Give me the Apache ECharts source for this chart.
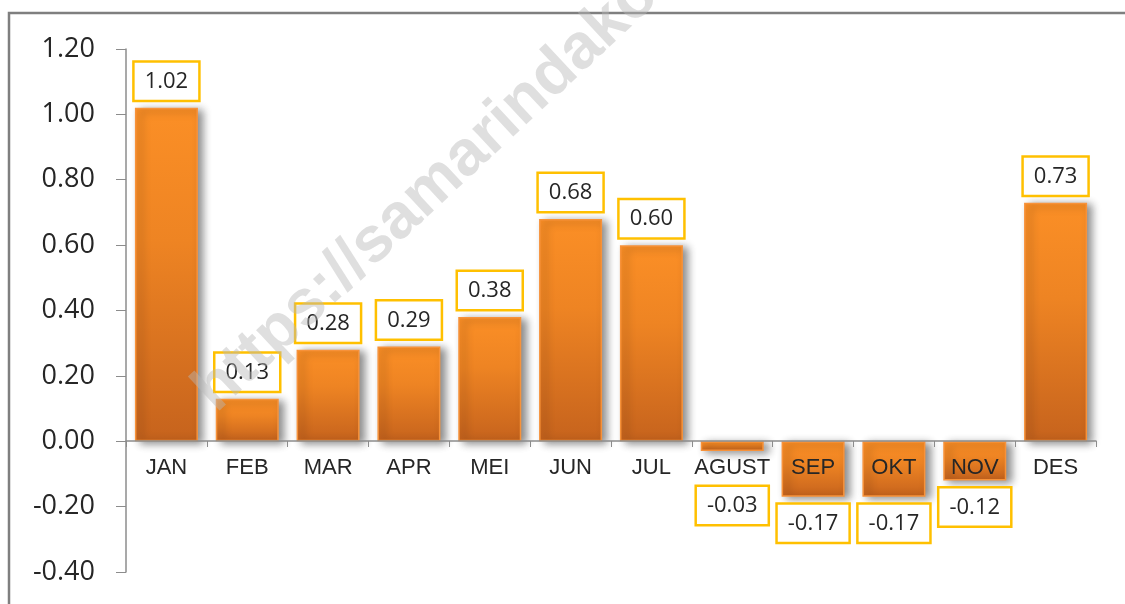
<!DOCTYPE html>
<html>
<head>
<meta charset="utf-8">
<title>Inflasi bulanan</title>
<script src="https://cdn.jsdelivr.net/npm/echarts@6/dist/echarts.min.js"></script>
<style>
  html, body { margin: 0; padding: 0; background: #fff; }
  #chart { width: 1125px; height: 604px; }
</style>
</head>
<body>
<div id="chart"></div>
<script>
// data
var months = ['JAN', 'FEB', 'MAR', 'APR', 'MEI', 'JUN', 'JUL', 'AGUST', 'SEP', 'OKT', 'NOV', 'DES'];
var values = [1.02, 0.13, 0.28, 0.29, 0.38, 0.68, 0.60, -0.03, -0.17, -0.17, -0.12, 0.73];
var yTicks = [-0.40, -0.20, 0.00, 0.20, 0.40, 0.60, 0.80, 1.00, 1.20];

var chart = echarts.init(document.getElementById('chart'));

// negative bars get label below, small ones pushed under the month name
var barData = values.map(function (v) {
  if (v >= 0) return v;
  return {
    value: v,
    label: { position: 'bottom', distance: v > -0.1 ? 36 : 8 }
  };
});

var option = {
  animation: false,
  backgroundColor: '#fff',
  grid: { left: 126, right: 29, top: 49, bottom: 32 },
  xAxis: {
    type: 'category',
    data: months,
    z: 5,
    // sit the whole axis (line + labels) on the zero line
    offset: -131,
    axisLine: { onZero: false, lineStyle: { color: '#8c8c8c', width: 1.5 } },
    axisTick: { show: true, length: 6, lineStyle: { color: '#8c8c8c' } },
    axisLabel: {
      interval: 0,
      margin: 16,
      color: '#262626',
      fontSize: 22,
      fontFamily: 'Liberation Sans'
    }
  },
  yAxis: {
    type: 'value',
    min: yTicks[0],
    max: yTicks[yTicks.length - 1],
    interval: 0.2,
    splitLine: { show: false },
    axisLine: { show: true, lineStyle: { color: '#8c8c8c', width: 1.5 } },
    axisTick: { show: true, length: 10, lineStyle: { color: '#8c8c8c' } },
    axisLabel: {
      margin: 31,
      color: '#262626',
      fontSize: 27,
      fontFamily: 'Open Sans',
      formatter: function (v) { return v.toFixed(2); }
    }
  },
  series: [{
    type: 'bar',
    data: barData,
    barWidth: 63,
    itemStyle: {
      color: new echarts.graphic.LinearGradient(0, 0, 0, 1, [
        { offset: 0, color: '#fb8f26' },
        { offset: 0.4, color: '#ee8423' },
        { offset: 1, color: '#c6631d' }
      ]),
      borderColor: '#f7923a',
      borderWidth: 1.5,
      shadowColor: 'rgba(0,0,0,0.45)',
      shadowBlur: 8,
      shadowOffsetX: 5,
      shadowOffsetY: 2
    },
    label: {
      show: true,
      position: 'top',
      distance: 8,
      color: '#262626',
      fontSize: 22,
      fontFamily: 'Open Sans',
      backgroundColor: '#fff',
      borderColor: '#ffc000',
      borderWidth: 2.5,
      padding: [8, 10, 7, 10],
      formatter: function (p) { return p.value.toFixed(2); }
    }
  }],
  graphic: [
    {
      type: 'rect',
      z: 100,
      shape: { x: 9, y: 13, width: 1300, height: 800 },
      style: { fill: 'none', stroke: '#7f7f7f', lineWidth: 2.5 }
    },
    {
      type: 'text',
      z: 110,
      x: 226,
      y: 424,
      rotation: 43 * Math.PI / 180,
      style: {
        text: 'https://samarindakota.bps.go.id',
        fill: 'rgba(185,185,185,0.45)',
        font: 'bold 64px "Liberation Sans"',
        textAlign: 'left',
        textVerticalAlign: 'bottom'
      }
    }
  ]
};

chart.setOption(option);
</script>
</body>
</html>
